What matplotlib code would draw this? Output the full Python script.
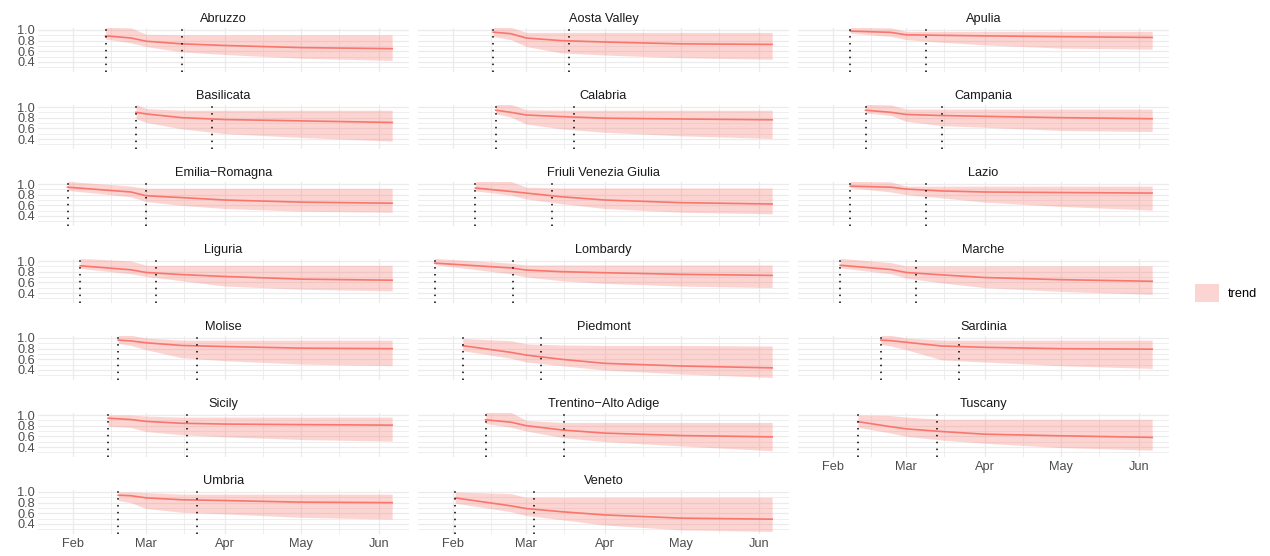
#!/usr/bin/env python3
"""
Facet grid of regional trend estimates (line + ribbon) with two
reference dates per region, ggplot-like minimal style.
Saved to out.png
"""
import numpy as np
import matplotlib
matplotlib.use("Agg")
import matplotlib.pyplot as plt
import matplotlib.dates as mdates
from matplotlib.patches import Patch

plt.rcParams["font.family"] = ["Liberation Sans", "DejaVu Sans"]

REGIONS = ["Abruzzo", "Aosta Valley", "Apulia",
           "Basilicata", "Calabria", "Campania",
           "Emilia\u2212Romagna", "Friuli Venezia Giulia", "Lazio",
           "Liguria", "Lombardy", "Marche",
           "Molise", "Piedmont", "Sardinia",
           "Sicily", "Trentino\u2212Alto Adige", "Tuscany",
           "Umbria", "Veneto"]

# first date of each series (first dotted line) and the second dotted line
START = ["2020-02-14", "2020-02-17", "2020-02-08",
         "2020-02-26", "2020-02-18", "2020-02-14",
         "2020-01-30", "2020-02-10", "2020-02-08",
         "2020-02-04", "2020-01-25", "2020-02-04",
         "2020-02-19", "2020-02-05", "2020-02-20",
         "2020-02-15", "2020-02-14", "2020-02-11",
         "2020-02-19", "2020-02-02"]
SECOND = ["2020-03-15", "2020-03-18", "2020-03-09",
          "2020-03-27", "2020-03-20", "2020-03-15",
          "2020-03-01", "2020-03-11", "2020-03-09",
          "2020-03-05", "2020-02-25", "2020-03-05",
          "2020-03-21", "2020-03-07", "2020-03-22",
          "2020-03-17", "2020-03-16", "2020-03-13",
          "2020-03-21", "2020-03-04"]

# values at START, then at each of these dates
KNOTS = ["2020-02-24", "2020-03-01", "2020-03-15",
         "2020-04-01", "2020-05-01", "2020-06-06"]

TREND = [
    [0.89, 0.85, 0.79, 0.74, 0.71, 0.67, 0.65],
    [0.96, 0.93, 0.85, 0.80, 0.775, 0.74, 0.73],
    [0.98, 0.955, 0.91, 0.90, 0.89, 0.875, 0.86],
    [0.90, None, 0.87, 0.80, 0.765, 0.74, 0.71],
    [0.94, 0.90, 0.85, 0.82, 0.79, 0.775, 0.76],
    [0.94, 0.90, 0.86, 0.84, 0.825, 0.80, 0.78],
    [0.94, 0.85, 0.78, 0.745, 0.70, 0.66, 0.64],
    [0.925, 0.86, 0.83, 0.76, 0.70, 0.65, 0.625],
    [0.96, 0.94, 0.905, 0.87, 0.85, 0.84, 0.83],
    [0.91, 0.835, 0.785, 0.745, 0.71, 0.66, 0.64],
    [0.96, 0.87, 0.83, 0.80, 0.78, 0.75, 0.73],
    [0.92, 0.84, 0.785, 0.74, 0.69, 0.65, 0.62],
    [0.96, 0.945, 0.91, 0.86, 0.84, 0.81, 0.80],
    [0.856, 0.73, 0.68, 0.60, 0.525, 0.475, 0.44],
    [0.96, 0.95, 0.92, 0.85, 0.825, 0.80, 0.79],
    [0.94, 0.915, 0.88, 0.845, 0.83, 0.82, 0.81],
    [0.91, 0.865, 0.80, 0.72, 0.66, 0.615, 0.59],
    [0.875, 0.78, 0.74, 0.69, 0.64, 0.61, 0.58],
    [0.94, 0.93, 0.89, 0.855, 0.84, 0.81, 0.80],
    [0.89, 0.74, 0.69, 0.63, 0.57, 0.51, 0.49],
]
LOWER = [
    [0.83, 0.76, 0.69, 0.59, 0.54, 0.47, 0.43],
    [0.875, 0.82, 0.69, 0.57, 0.53, 0.48, 0.45],
    [0.94, 0.88, 0.82, 0.77, 0.72, 0.66, 0.64],
    [0.78, None, 0.71, 0.59, 0.50, 0.43, 0.36],
    [0.87, 0.81, 0.68, 0.59, 0.525, 0.46, 0.41],
    [0.89, 0.84, 0.73, 0.65, 0.62, 0.56, 0.54],
    [0.88, 0.76, 0.67, 0.60, 0.54, 0.49, 0.47],
    [0.87, 0.79, 0.72, 0.63, 0.54, 0.47, 0.44],
    [0.93, 0.85, 0.80, 0.74, 0.66, 0.58, 0.51],
    [0.86, 0.76, 0.71, 0.63, 0.53, 0.47, 0.44],
    [0.93, 0.76, 0.70, 0.63, 0.58, 0.53, 0.50],
    [0.87, 0.76, 0.68, 0.59, 0.50, 0.43, 0.375],
    [0.90, 0.86, 0.78, 0.63, 0.575, 0.51, 0.48],
    [0.76, 0.62, 0.55, 0.48, 0.40, 0.325, 0.26],
    [0.88, 0.85, 0.78, 0.59, 0.55, 0.48, 0.43],
    [0.79, 0.765, 0.69, 0.63, 0.59, 0.54, 0.51],
    [0.84, 0.77, 0.70, 0.58, 0.50, 0.42, 0.33],
    [0.77, 0.66, 0.60, 0.53, 0.47, 0.39, 0.34],
    [0.84, 0.80, 0.69, 0.62, 0.59, 0.525, 0.49],
    [0.79, 0.63, 0.56, 0.48, 0.38, 0.29, 0.26],
]
UPPER = [
    [1.05, 1.04, 0.92, 0.91, 0.91, 0.91, 0.91],
    [1.05, 1.05, 0.955, 0.955, 0.955, 0.955, 0.955],
    [1.05, 1.04, 0.975, 0.975, 0.975, 0.975, 0.975],
    [1.05, None, 0.97, 0.94, 0.94, 0.94, 0.94],
    [1.05, 1.05, 0.95, 0.94, 0.94, 0.94, 0.94],
    [1.05, 1.04, 0.96, 0.96, 0.96, 0.96, 0.96],
    [1.05, 0.96, 0.92, 0.92, 0.92, 0.92, 0.92],
    [1.05, 1.05, 0.94, 0.925, 0.925, 0.925, 0.925],
    [1.05, 1.04, 0.96, 0.96, 0.96, 0.96, 0.96],
    [1.05, 1.00, 0.92, 0.92, 0.92, 0.92, 0.92],
    [1.05, 0.96, 0.925, 0.925, 0.925, 0.925, 0.925],
    [1.05, 0.97, 0.91, 0.91, 0.91, 0.91, 0.91],
    [1.05, 1.05, 1.00, 0.96, 0.96, 0.96, 0.96],
    [0.99, 0.95, 0.89, 0.87, 0.86, 0.86, 0.85],
    [1.05, 1.05, 1.00, 0.96, 0.96, 0.96, 0.96],
    [1.00, 1.00, 0.98, 0.96, 0.96, 0.96, 0.96],
    [1.05, 1.05, 0.90, 0.86, 0.86, 0.86, 0.86],
    [1.00, 0.99, 0.96, 0.92, 0.92, 0.92, 0.92],
    [1.00, 1.00, 0.99, 0.96, 0.96, 0.96, 0.96],
    [1.00, 0.97, 0.90, 0.90, 0.90, 0.90, 0.90],
]

Y_TICKS = [0.4, 0.6, 0.8, 1.0]
Y_MINOR = [0.3, 0.5, 0.7, 0.9]

RED = "#F8766D"
GRID = "#EBEBEB"
FS = 9.2
W, H = 1270, 556
NCOL = 3

fig = plt.figure(figsize=(W / 100, H / 100), dpi=100)


def px_axes(left, top, width, height):
    return fig.add_axes([left / W, 1 - (top + height) / H, width / W, height / H])


d_start = mdates.date2num(np.array(START, dtype="datetime64[D]"))
d_end = mdates.date2num(np.datetime64(KNOTS[-1]))
span = d_end - d_start.min()
xlim = (d_start.min() - 0.05 * span, d_end + 0.05 * span)

for i, name in enumerate(REGIONS):
    r, c = divmod(i, NCOL)
    ax = px_axes(38 + 380 * c, 28 + 77 * r, 371, 44)

    dates = [START[i]] + KNOTS
    keep = [k for k, v in enumerate(TREND[i]) if v is not None]
    x = mdates.date2num(np.array([dates[k] for k in keep], dtype="datetime64[D]"))
    mid = [TREND[i][k] for k in keep]
    lo = [LOWER[i][k] for k in keep]
    hi = [UPPER[i][k] for k in keep]

    ax.fill_between(x, lo, hi, color=RED, alpha=0.3, lw=0, zorder=2)
    ax.plot(x, mid, color=RED, lw=1.2, zorder=3)
    for d in (START[i], SECOND[i]):
        ax.axvline(mdates.date2num(np.datetime64(d)), color="black",
                   ls=(0, (1, 3.5)), lw=1.1, zorder=4)

    ax.set_xlim(*xlim)
    ax.set_ylim(0.2125, 1.0375)
    ax.xaxis.set_major_locator(mdates.MonthLocator())
    ax.xaxis.set_minor_locator(mdates.DayLocator(bymonthday=16))
    ax.xaxis.set_major_formatter(mdates.DateFormatter("%b"))
    ax.set_yticks(Y_TICKS)
    ax.set_yticks(Y_MINOR, minor=True)
    ax.set_yticklabels([f"{v:.1f}" for v in Y_TICKS])
    ax.grid(which="major", color=GRID, lw=0.9)
    ax.grid(which="minor", color=GRID, lw=0.6)
    ax.set_axisbelow(True)
    for s in ax.spines.values():
        s.set_visible(False)
    ax.tick_params(which="both", length=0, labelsize=FS, labelcolor="#4D4D4D")
    ax.tick_params(axis="y", pad=2)
    ax.tick_params(axis="x", pad=3)
    if c != 0:
        ax.tick_params(axis="y", labelleft=False)
    if i + NCOL < len(REGIONS):
        ax.tick_params(axis="x", labelbottom=False)
    ax.set_title(name, fontsize=FS, color="#1A1A1A", pad=4.5)

fig.legend(handles=[Patch(facecolor=RED, alpha=0.3, lw=0, label="trend")],
           loc="center left", bbox_to_anchor=(1195 / W, 1 - 293 / H),
           frameon=False, fontsize=FS, handlelength=1.85, handleheight=1.8,
           handletextpad=0.7, borderpad=0, borderaxespad=0)

fig.savefig("out.png", dpi=100)
